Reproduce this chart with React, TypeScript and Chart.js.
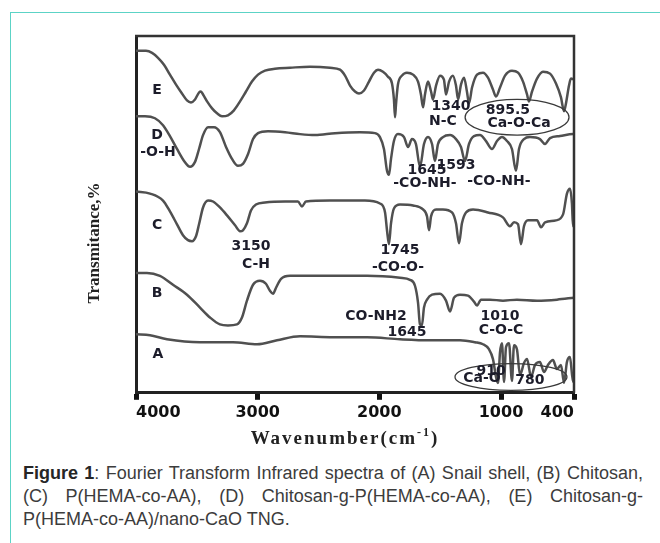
import React, { useEffect, useRef } from 'react';
import { Chart, registerables } from 'chart.js';

Chart.register(...registerables);

// ---- axis ticks ----
const xTickValues = [4000, 3000, 2000, 1000, 400];
const xAxisTitle = 'Wavenumber(cm';
const xAxisTitleSup = '-1';
const yAxisTitle = 'Transmitance,%';

// ---- spectra: [wavenumber (cm-1), transmittance (offset, a.u.)] ----
const spectrumE: [number, number][] = [
  [4000,172.5],[3918,172.5],[3868,171.5],[3819,169],[3770,165.5],[3721,160.5],[3671,155.5],[3622,151],[3581,147.5],[3548,146.5],[3515,148],[3482,151.5],[3466,152],[3449,150.5],[3416,147],[3375,143.5],[3334,141],[3293,139.5],[3244,140],[3195,142.5],[3145,147],[3096,152],[3047,157],[2997,160.5],[2940,162.5],[2858,163.5],[2734,164],[2570,164.5],[2406,164],[2323,163],[2282,160],[2241,155],[2200,152],[2167,151],[2126,152.5],[2085,157],[2044,161.5],[2011,163],[1970,162],[1929,159.5],[1896,156],[1880,148],[1871,139],[1863,145.5],[1847,155.5],[1814,160],[1773,161.5],[1723,160.5],[1682,157],[1658,150.5],[1641,144],[1625,150.5],[1600,157],[1575,152],[1559,148],[1534,155],[1501,160],[1469,158],[1452,150.5],[1427,157],[1395,160],[1370,155],[1353,148],[1329,155.5],[1304,159],[1280,152],[1263,146],[1238,154],[1197,160.5],[1148,161.5],[1107,159],[1066,153],[1041,149.5],[1008,154],[967,160],[910,162.5],[860,161.5],[819,157],[786,150.5],[770,147],[745,152],[704,158.5],[655,162],[597,161],[548,156],[507,149],[482,142],[466,146],[441,155],[425,158.5],[400,158],
];
const spectrumD: [number, number][] = [
  [4000,139.5],[3926,139.5],[3844,138.5],[3778,135],[3721,129.5],[3663,123],[3605,117],[3556,114],[3515,116.5],[3482,123],[3449,130],[3408,134],[3359,134],[3310,131.5],[3260,124],[3211,118],[3162,114.5],[3121,115.5],[3079,120.5],[3038,128],[2997,131],[2915,132],[2775,131.5],[2652,130.5],[2529,130],[2364,131],[2159,131.5],[2036,131],[1995,129],[1962,123],[1937,112],[1921,110],[1904,118],[1880,127],[1847,130.5],[1797,129],[1764,124],[1732,128],[1699,125.5],[1666,114],[1633,125.5],[1600,129],[1567,125.5],[1543,117],[1518,125.5],[1477,129],[1419,130],[1370,128],[1329,124],[1296,117],[1263,125.5],[1222,129.5],[1173,130],[1123,127],[1074,123],[1033,127],[992,129],[951,127],[910,123],[877,112],[852,123],[811,128],[762,129],[680,128],[638,125.5],[597,128.5],[515,129.5],[408,130.5],[400,130.5],
];
const spectrumC: [number, number][] = [
  [4000,101.5],[3885,100.5],[3778,97],[3721,91.5],[3663,85],[3614,79.5],[3573,77],[3540,76.5],[3507,79],[3482,85],[3449,93.5],[3408,97],[3367,96.5],[3310,93.5],[3252,89.5],[3186,84.5],[3145,81.5],[3121,82],[3088,85.5],[3055,92],[3014,95],[2940,96],[2775,96.5],[2669,96.5],[2636,94],[2603,96.5],[2406,97],[2118,97],[1995,95.5],[1953,91],[1937,82],[1921,75],[1904,85.5],[1880,93],[1830,95],[1723,94.5],[1641,92.5],[1608,89],[1592,82],[1575,89],[1534,92.5],[1477,92.5],[1403,91],[1370,85.5],[1345,75.5],[1321,85.5],[1288,91],[1230,92.5],[1107,91],[984,88.5],[926,84],[893,86],[860,85],[836,75],[811,84],[778,87],[704,87],[671,83.5],[638,86],[548,87],[490,90],[458,100.5],[433,103],[417,95.5],[408,84],[400,84],
];
const spectrumB: [number, number][] = [
  [4000,60.5],[3910,60.5],[3803,59],[3696,54.5],[3581,49.5],[3474,43],[3392,38],[3310,34.5],[3244,34],[3170,34.5],[3129,38],[3088,46.5],[3038,54.5],[2981,56.5],[2932,55],[2899,51.5],[2874,50],[2849,53],[2808,57.5],[2734,59],[2381,59],[2101,59],[1830,58],[1748,57],[1707,54],[1682,45.5],[1666,34.5],[1650,34],[1633,43],[1608,47],[1567,49.5],[1501,50],[1452,46.5],[1419,41],[1386,48],[1337,49.5],[1271,49],[1222,46],[1197,44],[1164,47],[1090,47],[984,46.5],[869,47],[704,46.5],[540,47],[400,48],
];
const spectrumA: [number, number][] = [
  [4000,29.5],[3885,29],[3745,27],[3474,25.5],[3203,25.5],[3005,24.5],[2841,26.5],[2652,28.5],[2381,28],[2101,28],[1830,27],[1584,26.5],[1337,26.5],[1214,25.5],[1148,24.5],[1099,22],[1066,17],[1041,8],[1025,5],[1008,20.5],[992,25],[975,5.5],[959,23],[934,25],[910,6],[893,24],[869,22],[844,9],[811,15],[786,17],[753,8],[721,14],[680,15.5],[647,10.5],[614,14],[573,16.5],[540,12],[507,14],[482,5],[458,15.5],[433,18],[408,5.5],[400,8],
];
const seriesNames = ['A', 'B', 'C', 'D', 'E'];
const seriesData = [spectrumA, spectrumB, spectrumC, spectrumD, spectrumE];

// ---- peak annotations (text, wavenumber, level) ----
const annotationTexts = ['E', 'D', '-O-H', 'C', 'B', 'A', '3150', 'C-H', '1745', '-CO-O-', 'CO-NH2', '1645', '1010', 'C-O-C', '910', 'Ca-O', '780', '1340', 'N-C', '895.5', 'Ca-O-Ca', '1645', '-CO-NH-', '1593', '-CO-NH-'];
const annotationWavenumbers = [3827, 3827, 3819, 3827, 3827, 3819, 3055, 3014, 1830, 1847, 2027, 1773, 1008, 1000, 1082, 1156, 762, 1411, 1477, 943, 852, 1608, 1625, 1370, 1017];
const annotationLevels = [152.5, 130, 121.5, 84.5, 50, 19.5, 74, 65, 72, 63.5, 38.5, 30.5, 38.5, 31.5, 11, 7.5, 6.5, 144.5, 137, 142.5, 136, 112, 105.5, 114.5, 106.5];

// ---- ovals around Ca-O bands (center wavenumber, center level, half-width wn, half-height level) ----
const ovalCenterWn = [868, 918];
const ovalCenterLevel = [139, 8];
const ovalHalfWidthWn = [427, 460];
const ovalHalfHeight = [9, 6.75];

const decorPlugin = {
  id: 'decor',
  afterDatasetsDraw(chart: any) {
    const { ctx, chartArea: a, scales } = chart;
    const x = scales.x;
    const y = scales.y;
    ctx.save();
    // top & right frame
    ctx.strokeStyle = '#333';
    ctx.lineWidth = 2.5;
    ctx.beginPath();
    ctx.moveTo(a.left - 1, a.top);
    ctx.lineTo(a.right, a.top);
    ctx.lineTo(a.right, a.bottom);
    ctx.stroke();

    // ovals
    ctx.lineWidth = 1.3;
    ctx.strokeStyle = '#3a3a3a';
    for (let i = 0; i < ovalCenterWn.length; i++) {
      const cx = x.getPixelForValue(ovalCenterWn[i]);
      const cy = y.getPixelForValue(ovalCenterLevel[i]);
      const rx = Math.abs(x.getPixelForValue(ovalCenterWn[i] + ovalHalfWidthWn[i]) - cx);
      const ry = Math.abs(y.getPixelForValue(ovalCenterLevel[i] + ovalHalfHeight[i]) - cy);
      ctx.beginPath();
      ctx.ellipse(cx, cy, rx, ry, 0, 0, Math.PI * 2);
      ctx.stroke();
    }

    // annotations
    ctx.fillStyle = '#1c1c2a';
    ctx.font = 'bold 14px "DejaVu Sans"';
    ctx.textAlign = 'center';
    ctx.textBaseline = 'middle';
    for (let i = 0; i < annotationTexts.length; i++) {
      ctx.fillText(annotationTexts[i], x.getPixelForValue(annotationWavenumbers[i]), y.getPixelForValue(annotationLevels[i]));
    }

    // y axis title
    ctx.fillStyle = '#222';
    ctx.font = 'bold 17px "Liberation Serif"';
    ctx.save();
    ctx.translate(95, 243);
    ctx.rotate(-Math.PI / 2);
    ctx.fillText(yAxisTitle, 0, 0);
    ctx.restore();

    // x axis title with superscript
    const cx = 345;
    const cyT = 439;
    (ctx as any).letterSpacing = '2px';
    ctx.font = 'bold 19px "Liberation Serif"';
    const w1 = ctx.measureText(xAxisTitle).width;
    ctx.font = 'bold 12px "Liberation Serif"';
    const w2 = ctx.measureText(xAxisTitleSup).width;
    ctx.font = 'bold 19px "Liberation Serif"';
    const w3 = ctx.measureText(')').width;
    let sx = cx - (w1 + w2 + w3) / 2;
    ctx.textAlign = 'left';
    ctx.fillText(xAxisTitle, sx, cyT);
    sx += w1;
    ctx.font = 'bold 12px "Liberation Serif"';
    ctx.fillText(xAxisTitleSup, sx, cyT - 6);
    sx += w2;
    ctx.font = 'bold 19px "Liberation Serif"';
    ctx.fillText(')', sx, cyT);
    ctx.restore();
  },
};

export default function App() {
  const canvasRef = useRef<HTMLCanvasElement>(null);

  useEffect(() => {
    const canvas = canvasRef.current;
    if (!canvas) return;
    const chart = new Chart(canvas, {
      type: 'line',
      data: {
        datasets: seriesData.map((s, i) => ({
          label: seriesNames[i],
          data: s.map(([wn, t]) => ({ x: wn, y: t })),
          borderColor: '#505050',
          borderWidth: 2.5,
          pointRadius: 0,
          fill: false,
          cubicInterpolationMode: 'monotone' as const,
        })),
      },
      options: {
        animation: false,
        responsive: false,
        devicePixelRatio: 1,
        layout: { padding: { left: 136, top: 36, right: 86, bottom: 35 } },
        plugins: { legend: { display: false }, tooltip: { enabled: false } },
        scales: {
          x: {
            type: 'linear',
            reverse: true,
            min: 400,
            max: 4000,
            afterBuildTicks: (scale: any) => {
              scale.ticks = [...xTickValues].sort((p, q) => p - q).map((v) => ({ value: v }));
            },
            ticks: {
              align: 'inner',
              autoSkip: false,
              maxRotation: 0,
              padding: 3,
              color: '#111',
              font: { family: 'DejaVu Sans', size: 16, weight: 'bold' },
              callback: (v: any) => String(v),
            },
            grid: { display: true, drawOnChartArea: false, drawTicks: true, tickLength: 7, tickWidth: 5, tickColor: '#111' },
            border: { display: true, color: '#222', width: 3 },
          },
          y: {
            min: 0,
            max: 180,
            ticks: { display: false },
            grid: { display: false, drawOnChartArea: false, drawTicks: false },
            border: { display: true, color: '#222', width: 3 },
          },
        },
      },
      plugins: [decorPlugin],
    } as any);
    return () => chart.destroy();
  }, []);

  return (
    <div style={{ position: 'absolute', left: 0, top: 0, width: 660, height: 543, overflow: 'hidden', background: '#fff' }}>
      <div style={{ position: 'absolute', left: 10, top: 12, width: 720, height: 620, border: '1.5px solid #5cd3c6', boxSizing: 'border-box' }} />
      <canvas ref={canvasRef} width={660} height={460} style={{ position: 'absolute', left: 0, top: 0, width: 660, height: 460 }} />
      <div style={{ position: 'absolute', left: 23, top: 462, width: 620, fontFamily: '"Liberation Sans", Arial, sans-serif', fontSize: 18, lineHeight: '23px', color: '#3c3c3c', textAlign: 'justify' }}>
        <b style={{ color: '#262626' }}>Figure 1</b>: Fourier Transform Infrared spectra of (A) Snail shell, (B) Chitosan, (C) P(HEMA-co-AA), (D) Chitosan-g-P(HEMA-co-AA), (E) Chitosan-g-P(HEMA-co-AA)/nano-CaO TNG.
      </div>
    </div>
  );
}
